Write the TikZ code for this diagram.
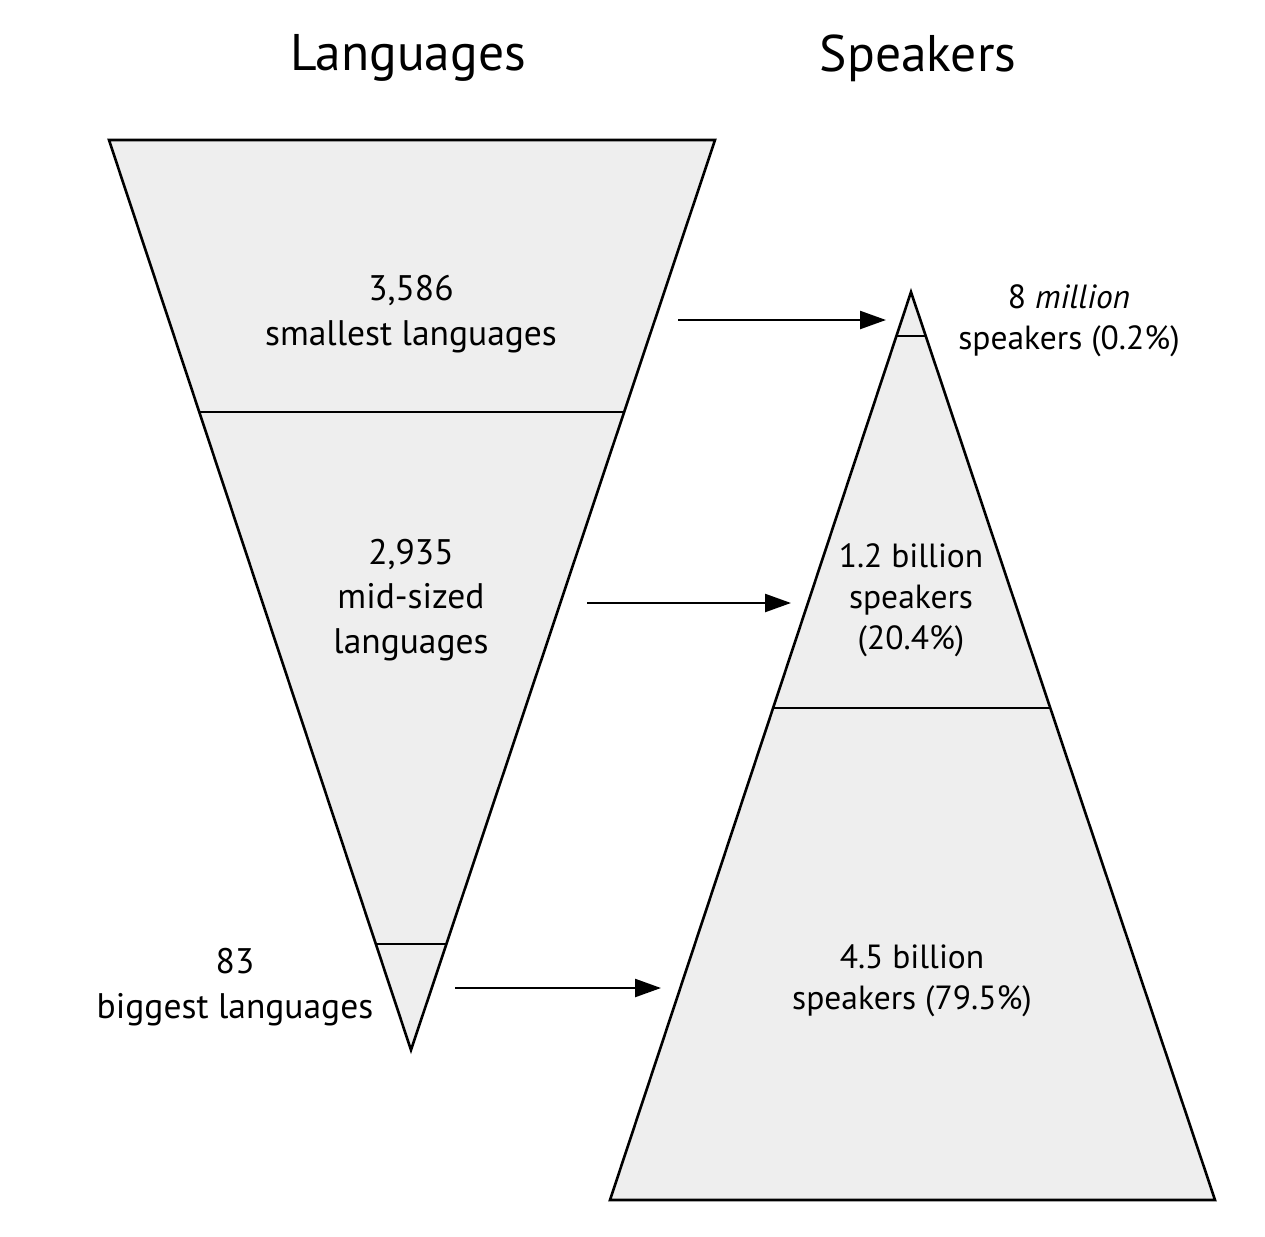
\documentclass[tikz,border=0pt]{standalone}
\usepackage{fontspec}
\setmainfont{PT Sans}
\usetikzlibrary{arrows.meta}
\tikzset{
  tri/.style={draw=black, line width=2.6pt, fill=gray!13, line join=miter},
  sep/.style={draw=black, line width=2.4pt},
  arr/.style={line width=2.4pt, -{Triangle[length=26pt,width=18pt]}},
  lbl/.style={align=center, inner sep=0pt, font=\fontsize{35.5}{44.5}\selectfont},
  rlbl/.style={align=center, inner sep=0pt, font=\fontsize{33.5}{41}\selectfont},
  ttl/.style={inner sep=0pt, font=\fontsize{51.5}{55}\selectfont}
}
\begin{document}
\begin{tikzpicture}[x=1pt,y=-1pt]
\useasboundingbox (0,0) rectangle (1265,1236);
% left inverted triangle
\coordinate (LA) at (109,140);
\coordinate (LB) at (715,140);
\coordinate (LC) at (411,1050);
\path[tri] (LA) -- (LB) -- (LC) -- cycle;
\coordinate (L1a) at (199.3,412);
\coordinate (L1b) at (624,412);
\coordinate (L2a) at (376,944);
\coordinate (L2b) at (446.4,944);
\draw[sep] (L1a) -- (L1b);
\draw[sep] (L2a) -- (L2b);
% right triangle
\coordinate (RA) at (911,292);
\coordinate (RB) at (1215,1200);
\coordinate (RC) at (610,1200);
\path[tri] (RA) -- (RB) -- (RC) -- cycle;
\coordinate (R1a) at (896.4,336);
\coordinate (R1b) at (925.7,336);
\coordinate (R2a) at (773,708);
\coordinate (R2b) at (1050,708);
\draw[sep] (R1a) -- (R1b);
\draw[sep] (R2a) -- (R2b);
% titles
\node[ttl] (tl) at (408,58) {Languages};
\node[ttl] (tr) at (918,58) {Speakers};
% labels
\node[lbl] (l1) at (411,314) {3,586\\smallest languages};
\node[lbl] (l2) at (411,600) {2,935\\mid-sized\\languages};
\node[lbl] (l3) at (235,987) {83\\biggest languages};
\node[rlbl] (r1) at (1069,321) {8 \textit{million}\\speakers (0.2\%)};
\node[rlbl] (r2) at (911,600) {1.2 billion\\speakers\\(20.4\%)};
\node[rlbl] (r3) at (912,981) {4.5 billion\\speakers (79.5\%)};
% arrows
\coordinate (a1s) at (678,320);
\coordinate (a1e) at (886,320);
\coordinate (a2s) at (587,603);
\coordinate (a2e) at (791,603);
\coordinate (a3s) at (455,988);
\coordinate (a3e) at (661,988);
\draw[arr] (a1s) -- (a1e);
\draw[arr] (a2s) -- (a2e);
\draw[arr] (a3s) -- (a3e);
\end{tikzpicture}
\end{document}
